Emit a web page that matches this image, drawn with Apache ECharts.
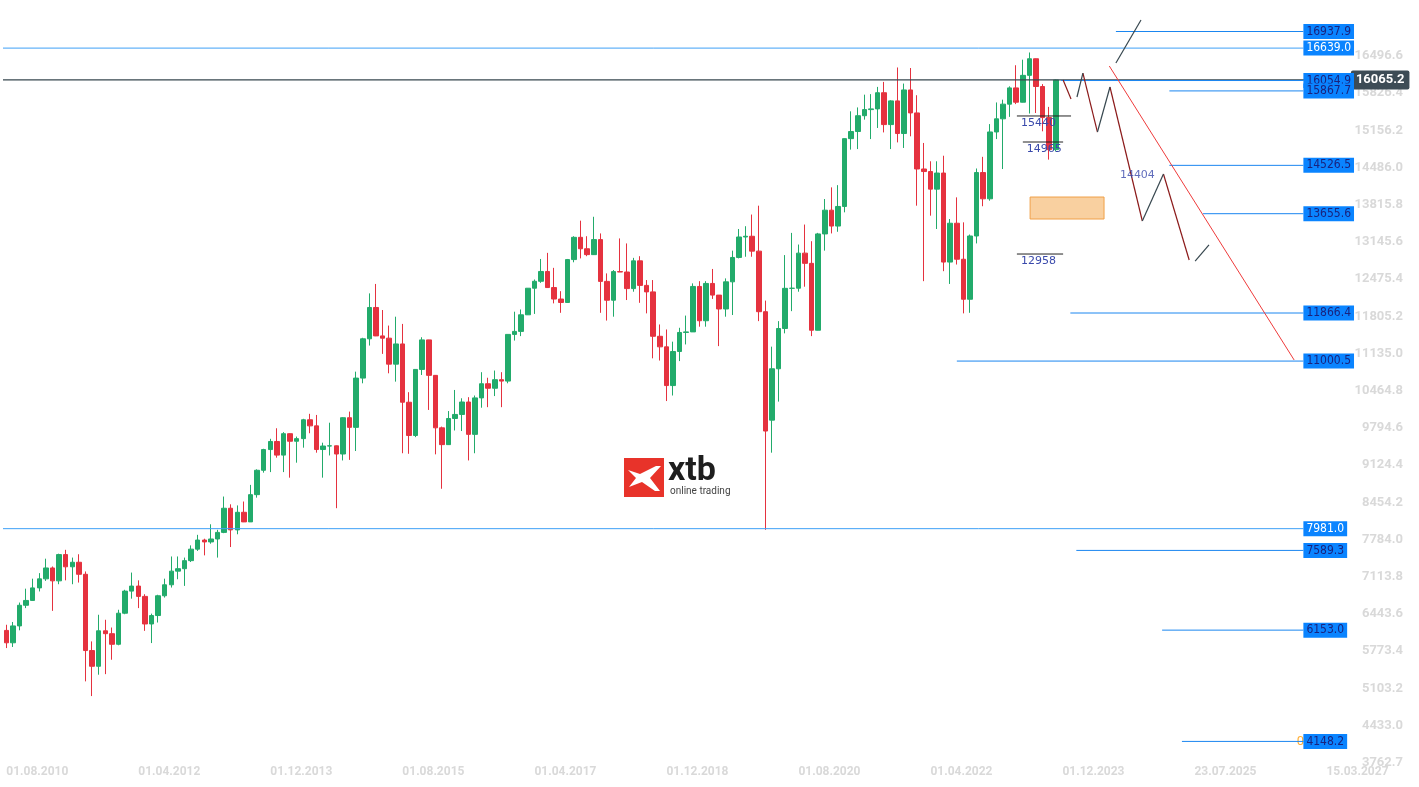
<!DOCTYPE html>
<html>
<head>
<meta charset="utf-8">
<script src="https://cdn.jsdelivr.net/npm/echarts@6/dist/echarts.min.js"></script>
<style>html,body{margin:0;padding:0;background:#fff}#main{width:1419px;height:787px}</style>
</head>
<body>
<div id="main"></div>
<script>
// monthly candles 2010-08 .. 2023-11
const opens = [6148,5925,6229,6601,6688,6914,7077,7273,7041,7514,7294,7376,7159,5785,5502,6141,6089,5898,6458,6856,6947,6761,6264,6416,6772,6970,7216,7260,7405,7612,7776,7742,7795,7914,8349,7959,8276,8103,8594,9033,9406,9552,9306,9692,9556,9603,9943,9833,9407,9470,9474,9326,9980,9806,10694,11402,11966,11454,11413,10945,11309,10259,9660,10850,11382,10743,9798,9495,9966,10039,10263,9680,10337,10592,10511,10665,10640,11481,11535,11834,12313,12438,12615,12325,12118,12056,12829,13230,13024,12918,13189,12436,12097,12612,12605,12306,12806,12364,12247,11447,11257,10559,11173,11516,11526,12345,11727,12399,12189,11939,12428,12867,13236,13249,12981,11890,9936,10862,11587,12311,12313,12945,12761,11556,13291,13719,13433,13786,15008,15136,15421,15531,15544,15835,15261,15688,15100,15885,15471,14461,14415,14098,14388,12784,13484,12835,12114,13254,14397,13924,15128,15365,15629,15922,15664,16148,16447,15947,15387,14810];
const closes = [5925,6229,6601,6688,6914,7077,7273,7041,7514,7294,7376,7159,5785,5502,6141,6089,5898,6458,6856,6947,6761,6264,6416,6772,6970,7216,7260,7405,7612,7776,7742,7795,7914,8349,7959,8276,8103,8594,9033,9406,9552,9306,9692,9556,9603,9943,9833,9407,9470,9474,9326,9980,9806,10694,11402,11966,11454,11413,10945,11309,10259,9660,10850,11382,10743,9798,9495,9966,10039,10263,9680,10337,10592,10511,10665,10640,11481,11535,11834,12313,12438,12615,12325,12118,12056,12829,13230,13024,12918,13189,12436,12097,12612,12605,12306,12806,12364,12247,11447,11257,10559,11173,11516,11526,12345,11727,12399,12189,11939,12428,12867,13236,13249,12981,11890,9740,10862,11587,12311,12313,12945,12761,11556,13291,13719,13433,13786,15008,15136,15421,15531,15544,15835,15261,15688,15100,15885,15471,14461,14415,14098,14388,12784,13484,12835,12114,13254,14397,13924,15128,15365,15629,15922,15664,16148,16447,15947,15387,14810,16065];
const highs = [6250,6300,6650,6900,7080,7180,7440,7300,7530,7600,7460,7520,7210,5950,6430,6340,6200,6520,6880,7190,7050,6800,6450,6790,7080,7480,7480,7460,7680,7870,7800,8060,7960,8560,8420,8400,8470,8770,9050,9420,9600,9790,9720,9700,9640,9960,10050,10030,9530,9890,9480,9990,10090,10810,11420,12220,12390,11920,11640,11800,11670,10440,10850,11430,11300,10490,9820,10100,10480,10330,10350,10380,10800,10700,10830,10800,11480,11890,11930,12310,12470,12840,12950,12680,12260,12840,13250,13530,13250,13600,13300,12580,12640,13210,13120,12860,12890,12460,12460,11660,11570,11350,11600,11820,12400,12440,12440,12660,12120,12490,12990,13380,13430,13640,13800,12090,11260,11720,12910,13310,13100,13460,13160,13310,13920,14130,14170,15010,15500,15570,15800,15810,15940,16030,15700,16290,16000,16280,15790,14930,14600,14600,14700,13560,13950,13500,13280,14470,14680,15270,15660,15710,15950,16330,16430,16560,16060,15990,15580,16070];
const lows = [5830,5850,6150,6550,6700,6850,7040,6500,6980,7050,6980,7010,5230,4965,5350,5360,5620,5880,6440,6720,6550,6140,5920,6290,6740,6920,7070,6950,7380,7580,7500,7710,7460,7900,7650,7880,8100,8110,8540,8990,9000,9260,9000,8900,9170,9440,9700,9350,8900,9300,8350,9210,9220,9380,10600,11280,11450,11130,10780,10630,9340,9330,9630,10750,10120,9320,8700,9490,9750,9740,9210,9340,10160,10170,10370,10170,10600,11370,11450,11840,11850,12410,12320,12040,11870,12120,12780,12850,12890,12980,11870,11730,11800,12640,12100,12250,12050,11860,11050,11010,10280,10380,11000,11300,11550,11620,11620,12120,11270,11800,11830,12850,12880,12880,11720,7960,9350,10270,11500,11900,12250,12340,11450,11750,12990,13300,13330,13680,14810,14820,15350,15000,15200,15120,14820,14940,14840,15050,13800,12440,13620,13380,12620,12390,12740,11860,11870,13120,13790,13890,15000,14460,15400,15630,15700,15460,15470,15140,14630,14780];

const xTickLabels = ['01.08.2010','01.04.2012','01.12.2013','01.08.2015','01.04.2017','01.12.2018','01.08.2020','01.04.2022','01.12.2023','23.07.2025','15.03.2027'];
const yTickValues = [3762.7,4433.0,5103.2,5773.4,6443.6,7113.8,7784.0,8454.2,9124.4,9794.6,10464.8,11135.0,11805.2,12475.4,13145.6,13815.8,14486.0,15156.2,15826.4,16496.6];

// horizontal levels: [start month index, price, label text colour]
const levels = [
  [168.1, 16937.9, '#1a237e'],
  [-0.5, 16639.0, '#ffffff'],
  [159.8, 16054.9, '#1a237e'],
  [176.2, 15867.7, '#1a237e'],
  [176.2, 14526.5, '#1a237e'],
  [181.3, 13655.6, '#1a237e'],
  [161.2, 11866.4, '#1a237e'],
  [144.0, 11000.5, '#1a237e'],
  [-0.5, 7981.0, '#ffffff'],
  [162.1, 7589.3, '#1a237e'],
  [175.1, 6153.0, '#1a237e'],
  [178.1, 4148.2, '#1a237e']
];
const lastPrice = 16065.2;

// projection paths [month index, price]
const redLegs = [
  [[160.1,16064],[161.3,15722]],
  [[163.1,16190],[165.3,15127]],
  [[167.2,15938],[172.1,13524]],
  [[175.3,14371],[179.2,12821]]
];
const blackLegs = [
  [[162.2,15758],[163.1,16190]],
  [[165.3,15127],[167.2,15938]],
  [[172.1,13524],[175.3,14371]],
  [[180.1,12803],[182.2,13092]],
  [[168.1,16370],[171.9,17145]]
];
const trendLine = [[167.1,16316],[195.1,11020]];
const marks = [ // short line start, end, price, text
  [153.1, 161.3, 15416, '15440'],
  [154.0, 160.1, 14947, '14965'],
  [153.1, 160.1, 12929, '12958']
];
const zone = [[155.1, 13956], [166.3, 13560]];

const months = [];
for (let i = 0; i < 213; i++) {
  const d = new Date(2010, 7 + i, 1);
  months.push(d.getFullYear() + '-' + String(d.getMonth() + 1).padStart(2, '0'));
}
const ohlc = opens.map((o, i) => [o, closes[i], lows[i], highs[i]]);
const boxX = 196.5, tagX = 203.7;

const chart = echarts.init(document.getElementById('main'));
const series = [{
  type: 'candlestick', data: ohlc, barWidth: 5,
  itemStyle: { color: '#22ab6b', color0: '#e5323f', borderColor: '#22ab6b', borderColor0: '#e5323f', borderWidth: 1 }
}];

// current price line
series.push({
  type: 'line', xAxisIndex: 1, symbol: 'circle', symbolSize: 0, silent: true, z: 4,
  lineStyle: { color: '#37474f', width: 1.2 },
  data: [[-0.5, lastPrice], { value: [tagX, lastPrice], label: {
    show: true, position: 'right', distance: 0, formatter: lastPrice.toFixed(1),
    backgroundColor: '#3d4c56', color: '#fff', fontWeight: 'bold', fontSize: 13,
    padding: [3, 5], borderRadius: 2, fontFamily: 'Roboto' } }]
});
// orange partial text behind the box
series.push({
  type: 'scatter', xAxisIndex: 1, symbolSize: 0, z: 3,
  data: [{ value: [boxX, 4148.2], label: { show: true, position: 'left', distance: -8, formatter: '05', color: '#ff9800', fontSize: 13, fontFamily: 'Roboto' } }]
});
levels.forEach(([s, v, tc]) => {
  series.push({
    type: 'line', xAxisIndex: 1, symbol: 'circle', symbolSize: 0, silent: true, z: 5,
    lineStyle: { color: s < 0 ? '#3ea0f7' : '#1a86f0', width: 1 },
    data: [[s, v], { value: [boxX, v], label: {
      show: true, position: 'right', distance: 0, formatter: v.toFixed(1),
      backgroundColor: '#0a84ff', color: tc, fontSize: 12, padding: [2, 3, 1, 3], fontFamily: 'DejaVu Sans Condensed' } }]
  });
});
redLegs.forEach(d => series.push({ type: 'line', xAxisIndex: 1, symbol: 'none', data: d, lineStyle: { color: '#8b1a1a', width: 1.2 }, z: 6 }));
blackLegs.forEach(d => series.push({ type: 'line', xAxisIndex: 1, symbol: 'none', data: d, lineStyle: { color: '#37474f', width: 1.2 }, z: 6 }));
series.push({ type: 'line', xAxisIndex: 1, symbol: 'none', data: trendLine, lineStyle: { color: '#ef3b3b', width: 1 }, z: 6 });
marks.forEach(([a, b, v, t]) => series.push({
  type: 'line', xAxisIndex: 1, symbol: 'circle', symbolSize: 0, z: 6,
  lineStyle: { color: '#222', width: 1 },
  data: [{ value: [a, v], label: { show: true, position: 'right', offset: [0, 7], distance: 4, formatter: t, color: '#3949ab', fontSize: 11, fontFamily: 'DejaVu Sans' } }, [b, v]]
}));
series.push({
  type: 'scatter', xAxisIndex: 1, symbolSize: 0, z: 6,
  data: [{ value: [168.7, 14353], label: { show: true, position: 'right', distance: 0, formatter: '14404', color: '#3949ab', fontSize: 11, fontFamily: 'DejaVu Sans' } }],
  markArea: { silent: true, itemStyle: { color: '#f9d0a0', borderColor: '#f0a048', borderWidth: 1 },
    data: [[{ coord: zone[0] }, { coord: zone[1] }]] }
});

chart.setOption({
  animation: false,
  backgroundColor: '#fff',
  grid: { left: 3, right: 10, top: 2, bottom: 24 },
  xAxis: [{
    type: 'category', data: months, boundaryGap: true,
    axisLine: { show: false }, axisTick: { show: false }, splitLine: { show: false },
    axisLabel: {
      interval: (i) => i % 20 === 0, align: 'left', margin: 3,
      color: '#d9d9d9', fontSize: 12, fontWeight: 'bold', fontFamily: 'Roboto',
      formatter: (v, i) => xTickLabels[i / 20] || ''
    }
  }, {
    type: 'value', min: -0.5, max: 212.5, show: false
  }],
  yAxis: {
    type: 'value', position: 'right', min: 3759.3, max: 17469.5, scale: true,
    axisLine: { show: false }, axisTick: { show: false }, splitLine: { show: false },
    axisLabel: { inside: true, margin: 6, customValues: yTickValues, color: '#d9d9d9', fontSize: 13, fontWeight: 'bold', fontFamily: 'Roboto',
      formatter: v => v.toFixed(1), showMinLabel: true, showMaxLabel: true }
  },
  graphic: [
    { type: 'rect', left: 624, top: 458, shape: { width: 40, height: 39 }, style: { fill: '#e8332a' } },
    { type: 'polygon', shape: { points: [[628,470],[640,474],[656,466],[661,466],[650,478],[660,491],[655,491],[642,482],[629,487],[636,478]] }, style: { fill: '#fff' } },
    { type: 'text', left: 668, top: 454, style: { text: 'xtb', fill: '#1e1e1e', font: 'bold 34px Roboto' } },
    { type: 'text', left: 670, top: 486, style: { text: 'online trading', fill: '#444', font: '10px Roboto' } }
  ],
  series: series
});
</script>
</body>
</html>
